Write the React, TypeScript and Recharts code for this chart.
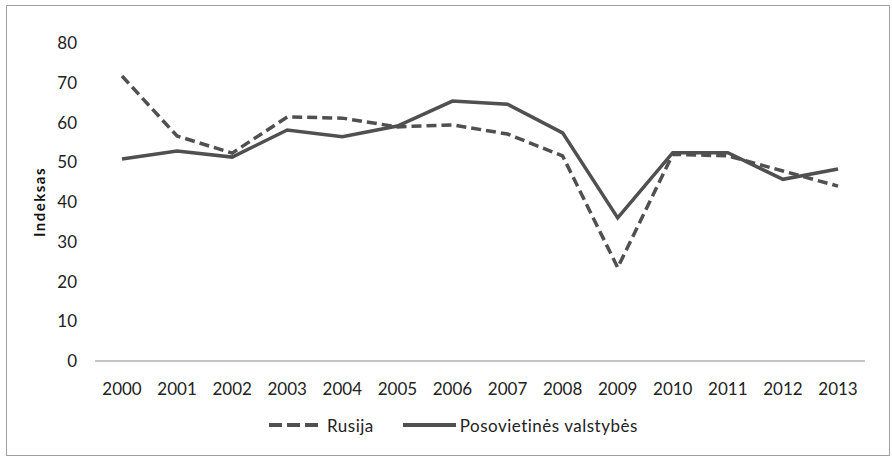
import React from "react";
import { LineChart, Line, XAxis, YAxis, Legend } from "recharts";

const years = ["2000", "2001", "2002", "2003", "2004", "2005", "2006", "2007", "2008", "2009", "2010", "2011", "2012", "2013"];
const rusija = [71.7, 56.6, 52.3, 61.4, 61.1, 58.9, 59.4, 57.1, 51.6, 23.5, 52.0, 51.6, 47.8, 44.0];
const posovietines = [50.8, 52.8, 51.3, 58.1, 56.4, 59.1, 65.4, 64.6, 57.4, 36.0, 52.4, 52.4, 45.7, 48.3];
const yTicks = [0, 10, 20, 30, 40, 50, 60, 70, 80];

const data = years.map((y, i) => ({
  year: y,
  Rusija: rusija[i],
  "Posovietinės valstybės": posovietines[i],
}));

const FONT = "Lato, 'Open Sans', sans-serif";
const LINE = "#505050";

const LegendBox = () => (
  <div
    style={{
      height: 40,
      display: "flex",
      justifyContent: "flex-start",
      alignItems: "center",
      fontFamily: FONT,
      fontSize: 17,
      letterSpacing: 0.5,
      color: "#222",
      paddingLeft: 234,
    }}
  >
    <svg width={49} height={6} style={{ marginRight: 9 }}>
      <line x1={0} y1={3} x2={49} y2={3} stroke={LINE} strokeWidth={4} strokeDasharray="13 5" />
    </svg>
    <span style={{ marginRight: 29 }}>Rusija</span>
    <svg width={53} height={6} style={{ marginRight: 4 }}>
      <line x1={0} y1={3} x2={53} y2={3} stroke={LINE} strokeWidth={4} />
    </svg>
    <span>Posovietinės valstybės</span>
  </div>
);

export default function App() {
  return (
    <div
      style={{
        position: "absolute",
        left: 6,
        top: 5,
        width: 882,
        height: 449,
        border: "1px solid #a0a0a0",
        background: "#fff",
      }}
    >
      <LineChart
        width={882}
        height={451}
        data={data}
        margin={{ top: 37, right: 24, left: 28, bottom: 12 }}
        style={{ fontFamily: FONT }}
      >
        <XAxis
          dataKey="year"
          tickLine={false}
          tickMargin={16}
          axisLine={{ stroke: "#888", strokeWidth: 1 }}
          tick={{ fill: "#222", fontSize: 17 }}
          height={44}
          interval={0}
          padding={{ left: 27, right: 27 }}
        />
        <YAxis
          domain={[0, 80]}
          ticks={yTicks}
          axisLine={false}
          tickLine={false}
          tickMargin={12}
          width={60}
          tick={{ fill: "#222", fontSize: 17 }}
          label={{
            value: "Indeksas",
            angle: -90,
            position: "insideLeft",
            offset: 5,
            style: { textAnchor: "middle", fontWeight: 700, fontSize: 15, letterSpacing: 1.5, fill: "#111" },
          }}
        />
        <Legend verticalAlign="bottom" content={() => <LegendBox />} />
        <Line
          type="linear"
          dataKey="Rusija"
          stroke={LINE}
          strokeWidth={3.5}
          strokeDasharray="10 5"
          dot={false}
          isAnimationActive={false}
        />
        <Line
          type="linear"
          dataKey="Posovietinės valstybės"
          stroke={LINE}
          strokeWidth={3.5}
          dot={false}
          isAnimationActive={false}
        />
      </LineChart>
    </div>
  );
}
